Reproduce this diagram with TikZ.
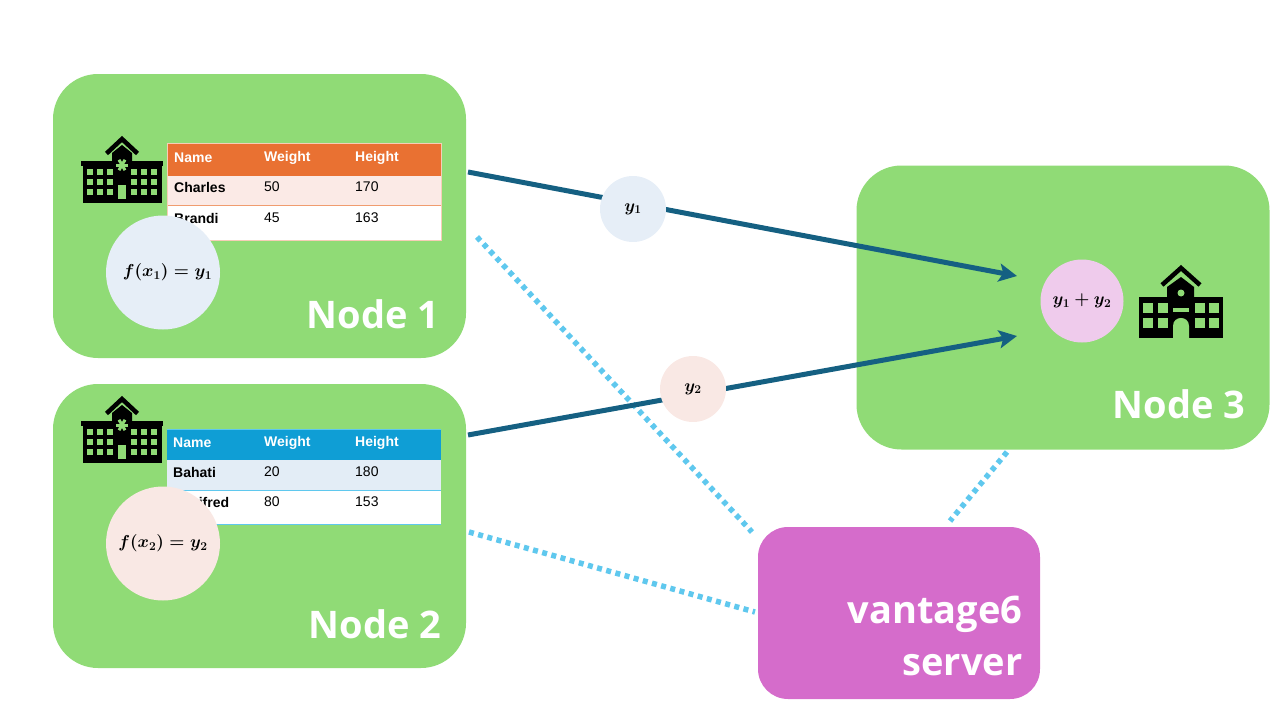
\documentclass[tikz,border=0pt]{standalone}
\usepackage{amsmath}
\usepackage{fontspec}
\setmainfont{Liberation Sans}
\newfontfamily\titlefont{Open Sans}
\usetikzlibrary{arrows.meta,backgrounds}
\definecolor{nodegreen}{HTML}{90DB76}
\definecolor{servermauve}{HTML}{D56CCB}
\definecolor{flowblue}{HTML}{156082}
\definecolor{linkblue}{HTML}{5FC8EE}
\definecolor{headorange}{HTML}{E97132}
\definecolor{headblue}{HTML}{0F9ED5}
\definecolor{rowpink}{HTML}{FBEAE6}
\definecolor{rowblue}{HTML}{E3EDF6}
\definecolor{calcblue}{HTML}{E6EEF7}
\definecolor{calcpink}{HTML}{F9E8E4}
\definecolor{sumpink}{HTML}{EFCBEC}
\tikzset{
  site/.style={rectangle,rounded corners=45pt,fill=nodegreen,minimum width=413pt,minimum height=284pt,inner sep=0pt},
  hub/.style={rectangle,rounded corners=30pt,fill=servermauve,minimum width=282pt,minimum height=172pt,inner sep=0pt},
  sitename/.style={text=white,anchor=east,font=\titlefont\fontsize{38}{38}\selectfont\bfseries},
  calc/.style={circle,minimum size=#1,inner sep=0pt,font=\fontsize{18}{18}\selectfont\boldmath},
  flow/.style={-{Stealth[length=18pt,width=18pt,inset=4pt]},draw=flowblue,line width=5pt},
  link/.style={draw=linkblue,line width=5.5pt,dash pattern=on 5pt off 4.5pt},
  cell/.style={anchor=west,inner sep=0pt,font=\fontsize{14}{14}\selectfont},
  hospital/.pic={
    \fill[black] (-39,27) rectangle (40,67);
    \fill[black] (-41,25) rectangle (41,30);
    \fill[black] (-10,27) -- (-10,17) -- (0,9) -- (10,17) -- (10,27) -- cycle;
    \draw[black,line width=4.5pt] (-15.5,17.5) -- (0,3) -- (15.5,17.5);
    \foreach \wy in {33,43,53} {
      \foreach \wx in {-35,-25,-15,9,19,29} {
        \fill[nodegreen] (\wx,\wy) rectangle ++(6,6);
      }
    }
    \fill[nodegreen] (-4,49) rectangle (4,63);
    \foreach \ang in {0,60,120} {
      \draw[nodegreen,line width=3pt] (\ang:6) ++(0,29) -- ++(180+\ang:12);
    }
  }
}
\begin{document}
\begin{tikzpicture}[x=1pt,y=-1pt]
  \useasboundingbox (0,0) rectangle (1280,720);
  \node (node1) [site] at (259.5,216) {};
  \node (node2) [site] at (259.5,526) {};
  \node (node3) [site] at (1063,307.5) {};
  \node (server) [hub] at (899,613) {};
  \node (name1) [sitename] at (443,314) {Node 1};
  \node (name2) [sitename] at (445,624) {Node 2};
  \node (name3) [sitename] at (1249,404) {Node 3};
  \node (servername) [anchor=east,align=right,text=white,font=\titlefont\fontsize{38}{52}\selectfont\bfseries] at (1026,636) {vantage6\\server};
  % table of node 1
  \fill[white] (167,143) rectangle (442,241);
  \fill[headorange] (168,144) rectangle (441,176);
  \fill[rowpink] (168,176) rectangle (441,205);
  \draw[headorange!70,line width=1pt] (168,205.5) -- (441,205.5);
  \draw[headorange!35,line width=1pt] (167.5,143.5) rectangle (441.5,240.5);
  \node (a1) [cell,text=white,font=\fontsize{14}{14}\selectfont\bfseries] at (174,158) {Name};
  \node (a2) [cell,text=white,font=\fontsize{14}{14}\selectfont\bfseries] at (264,158) {Weight};
  \node (a3) [cell,text=white,font=\fontsize{14}{14}\selectfont\bfseries] at (355,158) {Height};
  \node (a4) [cell,font=\fontsize{14}{14}\selectfont\bfseries] at (174,187) {Charles};
  \node (a5) [cell] at (264,187) {50};
  \node (a6) [cell] at (355,187) {170};
  \node (a7) [cell,font=\fontsize{14}{14}\selectfont\bfseries] at (174,218) {Brandi};
  \node (a8) [cell] at (264,218) {45};
  \node (a9) [cell] at (355,218) {163};
  % table of node 2
  \fill[white] (167,490) rectangle (441,524);
  \fill[headblue] (167,430) rectangle (441,460);
  \fill[rowblue] (167,460) rectangle (441,490);
  \draw[linkblue,line width=1pt] (167,429.5) -- (441,429.5) (167,490.5) -- (441,490.5) (167,524) -- (441,524);
  \node (b1) [cell,text=white,font=\fontsize{14}{14}\selectfont\bfseries] at (173,443) {Name};
  \node (b2) [cell,text=white,font=\fontsize{14}{14}\selectfont\bfseries] at (264,443) {Weight};
  \node (b3) [cell,text=white,font=\fontsize{14}{14}\selectfont\bfseries] at (355,443) {Height};
  \node (b4) [cell,font=\fontsize{14}{14}\selectfont\bfseries] at (173,472) {Bahati};
  \node (b5) [cell] at (264,472) {20};
  \node (b6) [cell] at (355,472) {180};
  \node (b7) [cell,font=\fontsize{14}{14}\selectfont\bfseries] at (173,502) {Winifred};
  \node (b8) [cell] at (264,502) {80};
  \node (b9) [cell] at (355,502) {153};
  % hospitals
  \pic at (122,136) {hospital};
  \pic at (122,396) {hospital};
  % school of node 3
  \fill[black] (1139,297) rectangle (1223,338);
  \fill[black] (1167,297) -- (1167,287) -- (1181,277) -- (1194,287) -- (1194,297) -- cycle;
  \draw[black,line width=4.5pt] (1162,285) -- (1181,268) -- (1200,285);
  \fill[nodegreen] (1181,293) circle (3.5);
  \foreach \wy in {303,318} {
    \foreach \wx in {1143,1158,1195,1209} {
      \fill[nodegreen] (\wx,\wy) rectangle ++(9.5,9.5);
    }
  }
  \fill[nodegreen] (1173,308) rectangle (1189,312);
  \fill[nodegreen] (1173,338) -- (1173,326) .. controls (1173,315.3) and (1189,315.3) .. (1189,326) -- (1189,338) -- cycle;
  % circles on the nodes
  \node (calc1) [calc=114pt,fill=calcblue] at (163,272.5) {\hspace*{9pt}$f(x_1)=y_1$};
  \node (calc2) [calc=114pt,fill=calcpink] at (163,543.5) {$f(x_2)=y_2$};
  \node (sum) [calc=83pt,fill=sumpink] at (1082,301) {$y_1+y_2$};
  % links to the server
  \coordinate (s1) at (752,532);
  \coordinate (s2) at (755,612);
  \coordinate (s3) at (950,521);
  \coordinate (n1) at (477,237);
  \coordinate (n2) at (469,532);
  \coordinate (n3) at (1007,452);
  \draw[link] (n1) -- (s1);
  \draw[link] (n2) -- (s2);
  \draw[link] (n3) -- (s3);
  % results going to node 3
  \coordinate (in1) at (1017,276);
  \coordinate (in2) at (1017,336);
  \coordinate (out1) at (468,172);
  \coordinate (out2) at (468,435);
  \draw[flow] (out1) -- (in1);
  \draw[flow] (out2) -- (in2);
  \node (msg1) [calc=66pt,fill=calcblue] at (633,209) {$y_1$};
  \node (msg2) [calc=66pt,fill=calcpink] at (693,389) {$y_2$};
\end{tikzpicture}
\end{document}
